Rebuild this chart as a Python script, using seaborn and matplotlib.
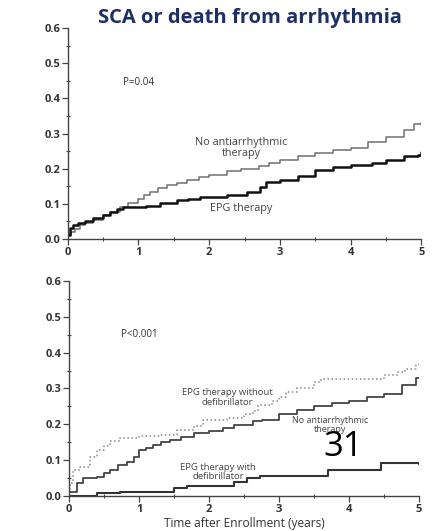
import numpy as np
import pandas as pd
import seaborn as sns
import matplotlib.pyplot as plt
from matplotlib.ticker import MultipleLocator, FormatStrFormatter

# top panel: SCA or death from arrhythmia
top_t_none = [0, 0.05, 0.1, 0.17, 0.25, 0.36, 0.5, 0.6, 0.74, 0.85, 1.0, 1.08, 1.16, 1.28, 1.4, 1.55, 1.68,
              1.85, 2.0, 2.25, 2.45, 2.7, 2.85, 3.0, 3.25, 3.5, 3.75, 4.0, 4.25, 4.5, 4.75, 4.9, 5.0]
top_none = [0.01, 0.02, 0.028, 0.04, 0.045, 0.054, 0.068, 0.078, 0.092, 0.102, 0.115, 0.125, 0.134, 0.145,
            0.153, 0.16, 0.168, 0.175, 0.182, 0.194, 0.2, 0.207, 0.215, 0.224, 0.235, 0.245, 0.252, 0.258,
            0.275, 0.29, 0.31, 0.328, 0.329]
top_t_epg = [0, 0.03, 0.075, 0.15, 0.25, 0.36, 0.5, 0.6, 0.7, 0.78, 1.1, 1.3, 1.54, 1.7, 1.87, 2.25, 2.53,
             2.72, 2.8, 3.0, 3.25, 3.5, 3.75, 4.0, 4.3, 4.5, 4.75, 4.95, 5.0]
top_epg = [0.01, 0.03, 0.04, 0.045, 0.05, 0.059, 0.068, 0.078, 0.085, 0.092, 0.094, 0.101, 0.11, 0.115,
           0.12, 0.125, 0.134, 0.149, 0.162, 0.167, 0.18, 0.196, 0.205, 0.21, 0.215, 0.224, 0.235, 0.24, 0.248]

# bottom panel
bot_t_nodef = [0, 0.01, 0.05, 0.16, 0.3, 0.4, 0.5, 0.59, 0.73, 1.0, 1.3, 1.54, 1.78, 1.92, 2.25, 2.5, 2.63,
               2.7, 2.9, 3.0, 3.1, 3.25, 3.5, 3.6, 4.0, 4.3, 4.5, 4.7, 4.8, 4.95, 5.0]
bot_nodef = [0.02, 0.035, 0.073, 0.082, 0.11, 0.128, 0.14, 0.152, 0.161, 0.168, 0.17, 0.184, 0.194, 0.212,
             0.217, 0.23, 0.236, 0.255, 0.265, 0.276, 0.29, 0.30, 0.318, 0.325, 0.325, 0.325, 0.337, 0.345,
             0.355, 0.365, 0.375]
bot_t_none = [0, 0.05, 0.11, 0.2, 0.4, 0.5, 0.59, 0.7, 0.82, 0.92, 1.0, 1.1, 1.2, 1.32, 1.44, 1.6, 1.78, 2.0,
              2.2, 2.35, 2.63, 2.75, 3.0, 3.25, 3.5, 3.75, 4.0, 4.25, 4.5, 4.75, 4.95, 5.0]
bot_none = [0.01, 0.012, 0.035, 0.049, 0.054, 0.063, 0.073, 0.085, 0.096, 0.11, 0.128, 0.135, 0.142, 0.15,
            0.156, 0.165, 0.175, 0.182, 0.19, 0.198, 0.208, 0.213, 0.23, 0.24, 0.25, 0.258, 0.265, 0.275,
            0.285, 0.31, 0.33, 0.33]
bot_t_def = [0, 0.4, 0.73, 1.5, 1.68, 2.35, 2.54, 2.73, 3.7, 4.45, 5.0]
bot_def = [0.0, 0.007, 0.012, 0.021, 0.028, 0.04, 0.05, 0.056, 0.073, 0.092, 0.09]

sns.set_style("white")
plt.rcParams['font.family'] = ['Open Sans', 'DejaVu Sans']

fig = plt.figure(figsize=(4.32, 5.31), dpi=100)

ax1 = fig.add_axes([0.157, 0.55, 0.818, 0.397])
ax2 = fig.add_axes([0.16, 0.066, 0.81, 0.405])

sns.lineplot(x=top_t_none, y=top_none, ax=ax1, drawstyle='steps-post', color='#707070', lw=1.1)
sns.lineplot(x=top_t_epg, y=top_epg, ax=ax1, drawstyle='steps-post', color='#111111', lw=1.8)

sns.lineplot(x=bot_t_nodef, y=bot_nodef, ax=ax2, drawstyle='steps-post', color='#888888', lw=1.1, ls=':')
sns.lineplot(x=bot_t_none, y=bot_none, ax=ax2, drawstyle='steps-post', color='#444444', lw=1.3)
sns.lineplot(x=bot_t_def, y=bot_def, ax=ax2, drawstyle='steps-post', color='#333333', lw=1.5)

for ax in (ax1, ax2):
    ax.set_xlim(0, 5)
    ax.set_ylim(0, 0.6)
    ax.xaxis.set_major_locator(MultipleLocator(1))
    ax.xaxis.set_minor_locator(MultipleLocator(0.5))
    ax.yaxis.set_major_locator(MultipleLocator(0.1))
    ax.yaxis.set_minor_locator(MultipleLocator(0.05))
    ax.yaxis.set_major_formatter(FormatStrFormatter('%.1f'))
    for s in ('top', 'right'):
        ax.spines[s].set_visible(False)
    for s in ('left', 'bottom'):
        ax.spines[s].set_color('#444444')
        ax.spines[s].set_linewidth(1.0)
    ax.tick_params(which='major', direction='out', length=4, width=0.9, color='#444444',
                   labelsize=8, labelcolor='#333333', pad=1.5, left=True, bottom=True)
    ax.tick_params(which='minor', direction='inout', length=3, width=0.8, color='#444444',
                   left=True, bottom=True)
    for lab in ax.get_xticklabels() + ax.get_yticklabels():
        lab.set_fontweight('bold')

ax1.text(1.0, 0.446, "P=0.04", fontsize=7, color='#333333', ha='center', va='center')
ax1.text(2.45, 0.259, "No antiarrhythmic\ntherapy", fontsize=7.8, color='#444444', ha='center',
         va='center', linespacing=1.1)
ax1.text(2.45, 0.088, "EPG therapy", fontsize=7.8, color='#444444', ha='center', va='center')

ax2.text(1.01, 0.45, "P<0.001", fontsize=7, color='#333333', ha='center', va='center')
ax2.text(2.26, 0.274, "EPG therapy without\ndefibrillator", fontsize=6.8, color='#444444', ha='center',
         va='center', linespacing=1.1)
ax2.text(3.73, 0.198, "No antiarrhythmic\ntherapy", fontsize=6.5, color='#444444', ha='center',
         va='center', linespacing=1.1)
ax2.text(2.13, 0.067, "EPG therapy with\ndefibrillator", fontsize=6.8, color='#444444', ha='center',
         va='center', linespacing=1.1)
ax2.set_xlabel("Time after Enrollment (years)", fontsize=8.6, color='#333333', labelpad=2)

fig.text(0.578, 0.966, "SCA or death from arrhythmia", fontsize=14.5, fontweight='bold',
         color='#1c2f6b', ha='center', va='center')
fig.text(0.794, 0.158, "31", fontsize=25, color='black', ha='center', va='center')

fig.savefig("out.png", dpi=100)
